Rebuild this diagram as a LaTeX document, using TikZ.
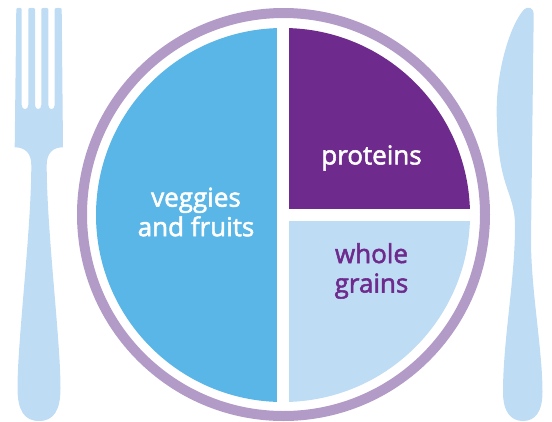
\documentclass[tikz,border=0pt]{standalone}
\usepackage{fontspec}
\setmainfont{Open Sans}[FakeBold=2]
\definecolor{plateblue}{HTML}{5BB6E8}
\definecolor{platepurple}{HTML}{6E2A8C}
\definecolor{platelilac}{HTML}{B39BC8}
\definecolor{platepale}{HTML}{BEDCF4}
\tikzset{
  platetext/.style={font=\fontsize{26}{29.5}\selectfont, align=center, inner sep=0pt, outer sep=0pt},
}
\begin{document}
\begin{tikzpicture}[x=1pt,y=-1pt]
\useasboundingbox (0,0) rectangle (552,421);
\draw[platelilac, line width=10pt] (283.5,214.5) circle (201.5);
\begin{scope}
\clip (283,215) circle (187);
\fill[plateblue] (90,20) rectangle (277.3,410);
\fill[platepurple] (289.3,20) rectangle (480,208.7);
\fill[platepale] (289.3,220.6) rectangle (480,410);
\end{scope}
\fill[platepale] (16.3,9) .. controls (16.3,7.5) and (21.7,7.5) .. (21.7,9)
  -- (21.7,105) .. controls (21.7,110.5) and (28.3,110.5) .. (28.3,105)
  -- (28.3,9) .. controls (28.3,7.5) and (35,7.5) .. (35,9)
  -- (35,105) .. controls (35,110.5) and (41.3,110.5) .. (41.3,105)
  -- (41.3,9) .. controls (41.3,7.5) and (48.3,7.5) .. (48.3,9)
  -- (48.3,105) .. controls (48.3,110.5) and (54.7,110.5) .. (54.7,105)
  -- (54.7,9) .. controls (54.7,7.5) and (61.7,7.5) .. (61.7,9)
  -- (63,147.3) .. controls (53,147.3) and (46.7,153) .. (46.7,165)
  .. controls (46.7,230) and (60.5,340) .. (60.5,388)
  .. controls (60.5,410) and (54,421) .. (39,421)
  .. controls (24,421) and (17.5,410) .. (17.5,388)
  .. controls (17.5,340) and (31.3,230) .. (31.3,165)
  .. controls (31.3,153) and (25,147.3) .. (14.7,147.3) -- cycle;
\fill[platepale] (524,9.5) .. controls (527,6.5) and (533.7,6) .. (533.7,15)
  -- (531,240)
  .. controls (531,290) and (542.5,350) .. (542.5,392)
  .. controls (542.5,412) and (535,421) .. (523,421)
  .. controls (511,421) and (503,412) .. (503,392)
  .. controls (503,340) and (515,280) .. (515,226)
  .. controls (515,190) and (496.7,190) .. (496.7,110)
  .. controls (496.7,70) and (510,25) .. (524,9.5) -- cycle;
\node[platetext, text=white] (veggies) at (196,212) {veggies\\and fruits};
\node[platetext, text=white] (proteins) at (371.5,158) {proteins};
\node[platetext, text=platepurple] (grains) at (371.5,271) {whole\\grains};
\end{tikzpicture}
\end{document}
